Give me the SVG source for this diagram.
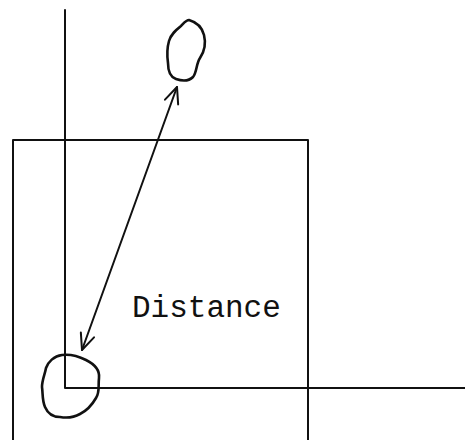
<svg xmlns="http://www.w3.org/2000/svg" width="465" height="440" viewBox="0 0 465 440">
<style>
.ln{fill:none;stroke:#111;stroke-width:2;stroke-linecap:round;stroke-linejoin:round}
.blob{fill:none;stroke:#111;stroke-width:2.6;stroke-linejoin:round}
.lbl{font-family:"Liberation Mono","Courier New",monospace;font-size:31px;fill:#111}
</style>
<defs>
<marker id="ah" viewBox="0 0 20 20" refX="18" refY="10" markerWidth="20" markerHeight="20" markerUnits="userSpaceOnUse" orient="auto-start-reverse">
<path d="M2,3 L18,10 L2,17" fill="none" stroke="#111" stroke-width="2" stroke-linecap="round" stroke-linejoin="round"/>
</marker>
</defs>
<rect width="465" height="440" fill="#fff"/>
<g id="frame">
<path class="ln" d="M13,441 L13,140 L308,140 L308,441"/>
</g>
<g id="axes">
<path class="ln" d="M65,10 L65,388 L465,388"/>
</g>
<g id="blob-top">
<path class="blob" d="M189,20 C196,22 202,27 204,35 C206,43 204,52 200,58 C196,64 197,72 193,77 C189,81 182,81 176,79 C170,77 168,71 168,63 C167,56 167,48 169,41 C171,34 176,30 181,26 C184,23 186,20 189,20 Z"/>
</g>
<g id="blob-bottom">
<path class="blob" d="M62,355 C70,354 78,356 86,360 C94,364 100,370 99,378 C98,386 100,392 96,398 C92,405 88,410 80,414 C73,418 66,418 60,417 C53,417 48,414 45,407 C42,400 43,394 42,387 C42,380 45,374 46,368 C48,362 54,356 62,355 Z"/>
</g>
<g id="connectors">
<line class="ln" x1="82" y1="350" x2="177" y2="87" marker-start="url(#ah)" marker-end="url(#ah)"/>
</g>
<g id="label">
<text class="lbl" x="132" y="317">Distance</text>
</g>
</svg>
